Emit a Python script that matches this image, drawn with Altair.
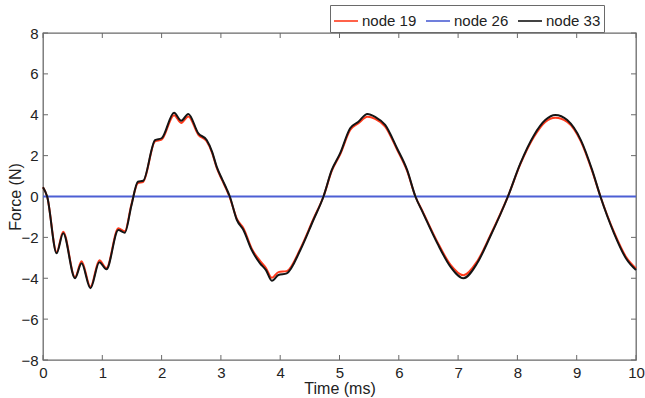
import altair as alt
import pandas as pd

# ---- data ----
time_ms = [0, 0.07, 0.23, 0.34, 0.54, 0.65, 0.80, 0.95, 1.07, 1.27,
           1.38, 1.49, 1.60, 1.69, 1.89, 2.00, 2.21, 2.33, 2.45, 2.62,
           2.76, 2.85, 2.93, 3.02, 3.10, 3.15, 3.27, 3.38, 3.52, 3.66,
           3.76, 3.86, 3.97, 4.11, 4.34, 4.56, 4.73, 4.87, 5.01, 5.18,
           5.32, 5.47, 5.60, 5.77, 5.97, 6.14, 6.28, 6.40, 6.65, 6.87,
           7.09, 7.32, 7.54, 7.84, 8.05, 8.28, 8.47, 8.64, 8.84, 9.07,
           9.26, 9.40, 9.63, 9.83, 10.0]

node19 = [0.45, 0.0, -2.72, -1.72, -3.95, -3.17, -4.42, -3.12, -3.50, -1.55,
          -1.70, -0.40, 0.65, 0.72, 2.70, 2.78, 3.98, 3.60, 3.92, 3.02,
          2.70, 2.15, 1.40, 0.80, 0.30, -0.05, -1.10, -1.55, -2.55, -3.15,
          -3.50, -3.98, -3.70, -3.65, -2.55, -1.10, 0.0, 1.25, 2.05, 3.25,
          3.58, 3.90, 3.80, 3.42, 2.30, 1.25, 0.0, -0.72, -2.22, -3.33,
          -3.85, -3.18, -1.92, 0.0, 1.58, 2.92, 3.65, 3.85, 3.65, 2.70,
          1.25, 0.0, -1.75, -2.95, -3.52]

node33 = [0.45, 0.0, -2.78, -1.80, -4.00, -3.27, -4.49, -3.22, -3.56, -1.64,
          -1.77, -0.45, 0.72, 0.77, 2.76, 2.85, 4.10, 3.71, 4.04, 3.09,
          2.76, 2.20, 1.45, 0.85, 0.35, 0.0, -1.15, -1.64, -2.62, -3.27,
          -3.60, -4.12, -3.84, -3.76, -2.62, -1.15, 0.0, 1.30, 2.11, 3.34,
          3.66, 4.04, 3.90, 3.50, 2.36, 1.30, 0.0, -0.75, -2.29, -3.43,
          -4.00, -3.27, -1.97, 0.0, 1.62, 3.00, 3.74, 3.99, 3.74, 2.76,
          1.30, 0.0, -1.80, -3.02, -3.60]

node26_time = [0, 10]
node26 = [0, 0]

series_names = ["node 19", "node 26", "node 33"]
series_colors = ["#ff3a1c", "#4c5fd4", "#141414"]

x_ticks = [0, 1, 2, 3, 4, 5, 6, 7, 8, 9, 10]
y_ticks = [-8, -6, -4, -2, 0, 2, 4, 6, 8]

# ---- tables ----
rows = []
for t, f in zip(time_ms, node19):
    rows.append({"t": t, "F": f, "series": "node 19", "k": 0})
for t, f in zip(node26_time, node26):
    rows.append({"t": t, "F": f, "series": "node 26", "k": 1})
for t, f in zip(time_ms, node33):
    rows.append({"t": t, "F": f, "series": "node 33", "k": 2})
df = pd.DataFrame(rows)

xt = pd.DataFrame({"t": x_ticks})
yt = pd.DataFrame({"F": y_ticks})

W, H = 593, 327
FONT = "Liberation Sans"
TXT = "#222222"
FRAME = "#6a6a6a"

xs = alt.Scale(domain=[0, 10], nice=False, zero=False)
ys = alt.Scale(domain=[-8, 8], nice=False, zero=False)

x_axis = alt.Axis(values=x_ticks, format="d", ticks=False, domain=False, grid=False,
                  labelFlush=False, labelPadding=5, titlePadding=0,
                  labelFontSize=15, titleFontSize=16, titleFontWeight="normal",
                  labelFont=FONT, titleFont=FONT, labelColor=TXT, titleColor=TXT)
y_axis = alt.Axis(values=y_ticks, format="d", ticks=False, domain=False, grid=False,
                  labelFlush=False, labelPadding=5,
                  titleX=-23, titleY=H / 2, titleBaseline="alphabetic",
                  labelFontSize=15, titleFontSize=16, titleFontWeight="normal",
                  labelFont=FONT, titleFont=FONT, labelColor=TXT, titleColor=TXT)

lines = alt.Chart(df).mark_line(strokeWidth=2, interpolate="monotone").encode(
    x=alt.X("t:Q", scale=xs, axis=x_axis, title="Time (ms)"),
    y=alt.Y("F:Q", scale=ys, axis=y_axis, title="Force (N)"),
    color=alt.Color(
        "series:N",
        scale=alt.Scale(domain=series_names, range=series_colors),
        legend=alt.Legend(
            title=None, orient="none", legendX=287, legendY=-28,
            direction="horizontal", symbolType="stroke", symbolSize=576,
            symbolStrokeWidth=1.6, labelFontSize=15, labelFont=FONT,
            labelColor=TXT, labelOffset=3, columnPadding=5, padding=3,
            fillColor="white", strokeColor=FRAME,
        ),
    ),
    order=alt.Order("k:Q"),
)

tick_color = FRAME
bottom_ticks = alt.Chart(xt).mark_rule(color=tick_color, strokeWidth=1).encode(
    x=alt.X("t:Q", scale=xs, title="Time (ms)"), y=alt.value(H), y2=alt.value(H - 5))
top_ticks = alt.Chart(xt).mark_rule(color=tick_color, strokeWidth=1).encode(
    x=alt.X("t:Q", scale=xs, title="Time (ms)"), y=alt.value(0), y2=alt.value(5))
left_ticks = alt.Chart(yt).mark_rule(color=tick_color, strokeWidth=1).encode(
    y=alt.Y("F:Q", scale=ys, title="Force (N)"), x=alt.value(0), x2=alt.value(5))
right_ticks = alt.Chart(yt).mark_rule(color=tick_color, strokeWidth=1).encode(
    y=alt.Y("F:Q", scale=ys, title="Force (N)"), x=alt.value(W), x2=alt.value(W - 5))

chart = alt.layer(
    bottom_ticks, top_ticks, left_ticks, right_ticks, lines
).properties(
    width=W, height=H,
    autosize=alt.AutoSizeParams(type="none"),
    padding={"left": 43, "top": 33, "right": 9, "bottom": 38},
    background="white",
).configure_view(
    stroke=FRAME, strokeWidth=1.3
)

chart.save("out.html", embed_options={"renderer": "svg", "actions": False})
